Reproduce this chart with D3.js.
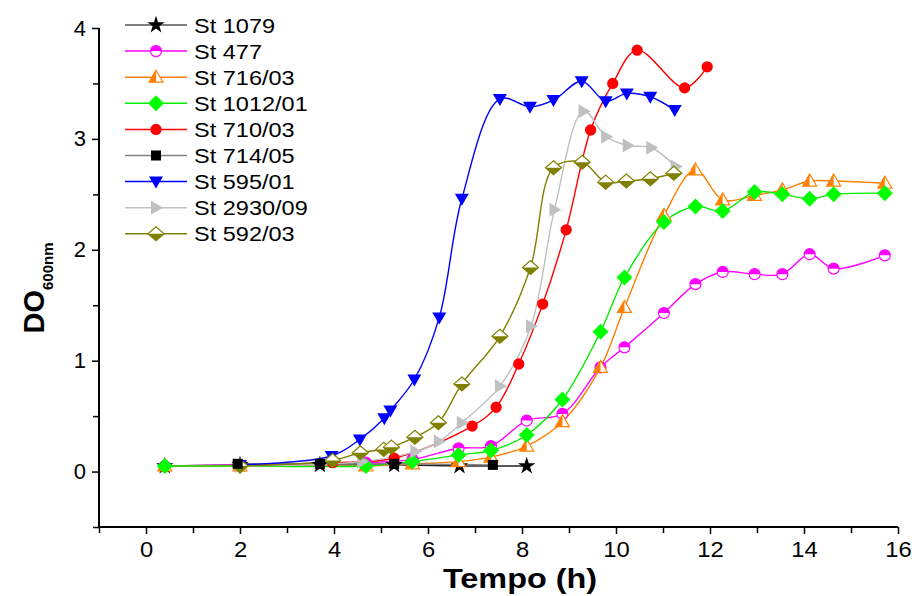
<!DOCTYPE html>
<html>
<head>
<meta charset="utf-8">
<script src="https://cdn.jsdelivr.net/npm/d3@7"></script>
<style>
  body { margin: 0; background: #fff; }
  text { font-family: "Liberation Sans", Arial, sans-serif; }
</style>
</head>
<body>
<div id="chart"></div>
<script>
// tempos (h) e DO600
const names = ['St 1079', 'St 477', 'St 716/03', 'St 1012/01', 'St 710/03', 'St 714/05', 'St 595/01', 'St 2930/09', 'St 592/03'];

const t1079 = [0.4, 2, 3.7, 5.28, 6.67, 8.1];
const y1079 = [0.05, 0.06, 0.06, 0.06, 0.05, 0.05];

// grade comum para St 477, St 716/03 e St 1012/01
const tGrid = [0.4, 2, 4.68, 5.67, 6.65, 7.34, 8.1, 8.86, 9.67, 10.18, 11.02, 11.69, 12.27, 12.95, 13.54, 14.12, 14.63, 15.72];
const y477 = [0.05, 0.06, 0.08, 0.11, 0.21, 0.23, 0.46, 0.52, 0.94, 1.12, 1.43, 1.69, 1.80, 1.78, 1.78, 1.96, 1.83, 1.95];
const y716 = [0.05, 0.05, 0.05, 0.07, 0.09, 0.13, 0.23, 0.45, 0.94, 1.48, 2.31, 2.72, 2.45, 2.49, 2.54, 2.62, 2.62, 2.60];
const y1012 = [0.05, 0.05, 0.05, 0.09, 0.15, 0.19, 0.33, 0.65, 1.26, 1.75, 2.25, 2.39, 2.35, 2.52, 2.50, 2.46, 2.50, 2.51];

const t710 = [2, 3.97, 5.28, 6.94, 7.45, 7.93, 8.44, 8.94, 9.46, 9.93, 10.45, 11.46, 11.94];
const y710 = [0.06, 0.08, 0.12, 0.41, 0.58, 0.97, 1.51, 2.18, 3.08, 3.50, 3.80, 3.46, 3.65];

const t714 = [1.95, 3.7, 5.28, 7.38];
const y714 = [0.07, 0.07, 0.07, 0.06];

const t595 = [2, 3.95, 4.55, 5.07, 5.2, 5.71, 6.24, 6.72, 7.53, 8.17, 8.67, 9.27, 9.78, 10.23, 10.73, 11.25];
const y595 = [0.06, 0.14, 0.29, 0.48, 0.55, 0.83, 1.39, 2.46, 3.36, 3.29, 3.35, 3.52, 3.34, 3.41, 3.38, 3.26];

const t2930 = [2, 4.6, 5.73, 6.23, 6.72, 7.53, 8.19, 8.69, 9.31, 9.79, 10.25, 10.75, 11.27];
const y2930 = [0.05, 0.09, 0.18, 0.27, 0.44, 0.77, 1.31, 2.36, 3.25, 3.02, 2.94, 2.92, 2.75];

const t592 = [2, 3.97, 4.56, 5.06, 5.22, 5.72, 6.22, 6.72, 7.53, 8.18, 8.67, 9.28, 9.78, 10.22, 10.73, 11.23];
const y592 = [0.05, 0.10, 0.17, 0.20, 0.22, 0.31, 0.44, 0.79, 1.22, 1.84, 2.74, 2.79, 2.61, 2.62, 2.64, 2.69];

const xTicks = [0, 2, 4, 6, 8, 10, 12, 14, 16];
const xMinor = [-1, 1, 3, 5, 7, 9, 11, 13, 15];
const yTicks = [0, 1, 2, 3, 4];
const yMinor = [-0.5, 0.5, 1.5, 2.5, 3.5];

// estilo de cada serie
const series = [
  { name: names[0], t: t1079, y: y1079, color: '#000', line: '#222', mark: 'star', smooth: false },
  { name: names[1], t: tGrid, y: y477, color: '#ff00ff', line: '#ff00ff', mark: 'circleHalf', smooth: true },
  { name: names[2], t: tGrid, y: y716, color: '#ff8000', line: '#ff8000', mark: 'triHalf', smooth: true },
  { name: names[3], t: tGrid, y: y1012, color: '#00ff00', line: '#00ee00', mark: 'diamond', smooth: true },
  { name: names[4], t: t710, y: y710, color: '#ff0000', line: '#ff0000', mark: 'circle', smooth: true },
  { name: names[5], t: t714, y: y714, color: '#000', line: '#808080', mark: 'square', smooth: false },
  { name: names[6], t: t595, y: y595, color: '#0000ff', line: '#0000ff', mark: 'triDown', smooth: true },
  { name: names[7], t: t2930, y: y2930, color: '#c0c0c0', line: '#c0c0c0', mark: 'triRight', smooth: true },
  { name: names[8], t: t592, y: y592, color: '#808000', line: '#808000', mark: 'diamondHalf', smooth: true }
];
// ordem de desenho dos marcadores (quadrado por cima)
const markOrder = [0, 1, 2, 3, 4, 6, 7, 8, 5];

const W = 916, H = 596;
const svg = d3.select('#chart').append('svg').attr('width', W).attr('height', H);

const x = d3.scaleLinear().domain([-1, 16]).range([99, 898]);
const y = d3.scaleLinear().domain([-0.5, 4]).range([527, 28]);

// formas dos marcadores
function shapes(type) {
  const poly = p => 'M' + p.map(d => d.join(',')).join('L') + 'Z';
  const r = 5.5;
  switch (type) {
    case 'star': return { full: d3.symbol().type(d3.symbolStar).size(95)(), fill: true };
    case 'circle': return { full: d3.symbol().type(d3.symbolCircle).size(100)(), fill: true };
    case 'circleHalf': return { full: d3.symbol().type(d3.symbolCircle).size(95)(), half: `M${-r},0A${r},${r} 0 0 1 ${r},0Z` };
    case 'triHalf': return { full: poly([[0, -7], [7, 5], [-7, 5]]), half: poly([[0, -7], [0, 5], [-7, 5]]) };
    case 'diamond': return { full: poly([[0, -8], [8, 0], [0, 8], [-8, 0]]), fill: true };
    case 'diamondHalf': return { full: poly([[0, -7], [8, 0], [0, 7], [-8, 0]]), half: poly([[-8, 0], [8, 0], [0, 7]]) };
    case 'square': return { full: poly([[-5, -5], [5, -5], [5, 5], [-5, 5]]), fill: true };
    case 'triDown': return { full: poly([[-7, -5], [7, -5], [0, 7]]), fill: true };
    case 'triRight': return { full: poly([[-5, -7], [7, 0], [-5, 7]]), fill: true };
  }
}

function drawMark(g, s) {
  const sh = shapes(s.mark);
  g.append('path').attr('d', sh.full)
    .attr('fill', sh.fill ? s.color : '#fff')
    .attr('stroke', s.color).attr('stroke-width', sh.fill ? 0 : 1.2);
  if (sh.half) g.append('path').attr('d', sh.half).attr('fill', s.color);
}

// eixos
const axisX = svg.append('g').attr('transform', `translate(0,${y(-0.5)})`);
axisX.call(d3.axisBottom(x).tickValues(xTicks).tickSize(7).tickPadding(7).tickFormat(d3.format('d')));
axisX.append('g').call(d3.axisBottom(x).tickValues(xMinor).tickSize(6).tickFormat(''));
const axisY = svg.append('g').attr('transform', `translate(${x(-1)},0)`);
axisY.call(d3.axisLeft(y).tickValues(yTicks).tickSize(7).tickPadding(6).tickFormat(d3.format('d')));
axisY.append('g').call(d3.axisLeft(y).tickValues(yMinor).tickSize(6).tickFormat(''));

svg.selectAll('.domain').attr('stroke', '#000').attr('stroke-width', 2);
svg.selectAll('.tick line').attr('stroke', '#000').attr('stroke-width', 1.5);
svg.selectAll('.tick text').attr('fill', '#000').style('font-size', '22px')
  .style('font-family', '"Liberation Sans", Arial, sans-serif');
axisX.selectAll('.tick text').attr('transform', 'scale(1.08,1)');
axisX.selectAll('.domain').attr('d', `M${x(-1)},0H${x(16)}`);
axisY.selectAll('.domain').attr('d', `M0,${y(4)}V${y(-0.5)}`);

// curvas
series.forEach(s => {
  const pts = s.t.map((t, i) => [t, s.y[i]]);
  const line = d3.line().x(d => x(d[0])).y(d => y(d[1]))
    .curve(s.smooth ? d3.curveCatmullRom.alpha(0.5) : d3.curveLinear);
  svg.append('path').datum(pts).attr('d', line)
    .attr('fill', 'none').attr('stroke', s.line).attr('stroke-width', 1.4);
});
markOrder.forEach(k => {
  const s = series[k];
  s.t.forEach((t, i) => {
    const g = svg.append('g').attr('transform', `translate(${x(t)},${y(s.y[i])})`);
    drawMark(g, s);
  });
});

// legenda
const leg = svg.append('g');
series.forEach((s, i) => {
  const ry = 25 + i * 26.1;
  const g = leg.append('g').attr('transform', `translate(0,${ry})`);
  g.append('line').attr('x1', 125).attr('x2', 187).attr('y1', 0).attr('y2', 0)
    .attr('stroke', s.line === '#222' ? '#555' : s.line).attr('stroke-width', 1.5);
  drawMark(g.append('g').attr('transform', 'translate(156,0)'), s);
  g.append('text').attr('x', 0).attr('y', 0)
    .attr('transform', 'translate(194,7.5) scale(1.12,1)')
    .style('font-size', '21px').attr('fill', '#000').text(s.name);
});

// titulos dos eixos
svg.append('text').attr('text-anchor', 'middle')
  .attr('transform', 'translate(520,588) scale(1.2,1)')
  .style('font-size', '27px').style('font-weight', 'bold')
  .text('Tempo (h)');

const yl = svg.append('text').attr('transform', 'translate(44,288) rotate(-90)')
  .attr('text-anchor', 'middle').style('font-weight', 'bold');
yl.append('tspan').style('font-size', '29px').text('DO');
yl.append('tspan').style('font-size', '15px').attr('dy', 9).text('600nm');
</script>
</body>
</html>
